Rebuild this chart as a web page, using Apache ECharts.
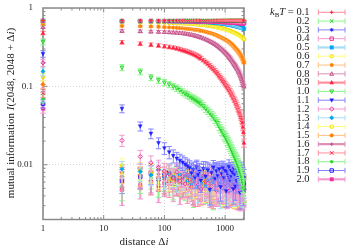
<!DOCTYPE html>
<html><head><meta charset="utf-8">
<script src="https://cdn.jsdelivr.net/npm/echarts@6/dist/echarts.min.js"></script>
<style>html,body{margin:0;padding:0;background:#fff}#c{width:358px;height:248px}</style>
</head><body><div id="c"></div>
<script>
// ---- data ----
const DI = [1,20,40,60,80,100,120,140,160,180,200,220,240,260,280,300,320,340,360,380,400,
  440,480,520,560,600,640,680,720,760,800,840,880,920,960,1000,1040,1080,1120,1160,1200,
  1240,1280,1320,1360,1400,1440,1480,1520,1560,1600,1640,1680,1720,1760,1800,1840,1880,1920,1960,2000,2040];
const TEMPS = ['0.1','0.2','0.3','0.4','0.5','0.6','0.7','0.8','0.9','1.0','1.1','1.2','1.3','1.4','1.5','1.6','1.7','1.8','1.9','2.0'];

const MI_T01 = [0.692,0.691,0.691,0.691,0.691,0.691,0.691,0.691,0.691,0.691,0.691,0.691,0.691,0.691,0.691,0.691,0.691,0.691,0.691,0.691,0.691,
  0.691,0.691,0.691,0.691,0.691,0.691,0.691,0.691,0.691,0.691,0.691,0.691,0.691,0.691,0.691,0.691,0.691,0.691,0.691,0.691,
  0.691,0.691,0.691,0.691,0.691,0.691,0.691,0.691,0.691,0.691,0.691,0.691,0.691,0.691,0.691,0.691,0.691,0.691,0.691,0.691,0.691];
const MI_T02 = [0.692,0.69,0.69,0.69,0.69,0.69,0.69,0.69,0.69,0.69,0.69,0.69,0.69,0.69,0.69,0.69,0.69,0.69,0.69,0.69,0.69,
  0.69,0.69,0.69,0.69,0.69,0.69,0.69,0.69,0.69,0.69,0.69,0.69,0.69,0.69,0.69,0.69,0.69,0.69,0.69,0.69,
  0.69,0.69,0.69,0.69,0.69,0.69,0.69,0.69,0.69,0.69,0.69,0.69,0.69,0.69,0.69,0.69,0.69,0.69,0.69,0.69,0.69];
const MI_T03 = [0.69,0.688,0.688,0.688,0.688,0.688,0.688,0.688,0.688,0.688,0.688,0.688,0.688,0.688,0.687,0.687,0.687,0.687,0.687,0.687,0.687,
  0.687,0.686,0.686,0.686,0.686,0.686,0.685,0.685,0.685,0.685,0.685,0.684,0.684,0.684,0.684,0.683,0.683,0.683,0.683,0.682,
  0.682,0.682,0.682,0.681,0.681,0.681,0.681,0.68,0.68,0.68,0.68,0.68,0.679,0.679,0.679,0.679,0.679,0.678,0.678,0.678,0.678];
const MI_T04 = [0.685,0.682,0.682,0.682,0.681,0.681,0.681,0.68,0.68,0.68,0.68,0.679,0.679,0.679,0.678,0.678,0.678,0.677,0.677,0.676,0.676,
  0.675,0.674,0.673,0.672,0.671,0.67,0.669,0.668,0.667,0.666,0.665,0.664,0.663,0.662,0.661,0.66,0.659,0.658,0.657,0.656,
  0.655,0.654,0.653,0.652,0.651,0.65,0.649,0.648,0.647,0.646,0.645,0.644,0.643,0.642,0.641,0.64,0.64,0.639,0.638,0.638,0.637];
const MI_T05 = [0.68,0.675,0.675,0.675,0.674,0.674,0.674,0.673,0.673,0.672,0.672,0.671,0.67,0.67,0.669,0.668,0.667,0.666,0.665,0.664,0.663,
  0.661,0.659,0.657,0.655,0.652,0.65,0.647,0.645,0.642,0.64,0.637,0.634,0.631,0.628,0.625,0.622,0.619,0.616,0.613,0.61,
  0.607,0.604,0.601,0.598,0.595,0.592,0.589,0.586,0.583,0.58,0.577,0.574,0.571,0.568,0.565,0.562,0.559,0.556,0.552,0.548,0.543];
const MI_T06 = [0.665,0.655,0.652,0.65,0.648,0.646,0.644,0.642,0.64,0.638,0.636,0.634,0.632,0.63,0.627,0.625,0.622,0.62,0.617,0.615,0.612,
  0.607,0.601,0.595,0.59,0.584,0.579,0.574,0.569,0.564,0.56,0.555,0.55,0.545,0.54,0.535,0.53,0.525,0.52,0.515,0.51,
  0.505,0.5,0.495,0.49,0.485,0.48,0.475,0.47,0.465,0.46,0.455,0.45,0.445,0.44,0.435,0.43,0.425,0.42,0.414,0.407,0.4];
const MI_T07 = [0.625,0.59,0.585,0.58,0.575,0.57,0.566,0.562,0.558,0.554,0.55,0.546,0.542,0.538,0.534,0.53,0.527,0.523,0.519,0.516,0.512,
  0.504,0.496,0.488,0.48,0.472,0.464,0.456,0.448,0.44,0.43,0.423,0.416,0.409,0.402,0.395,0.388,0.381,0.374,0.367,0.36,
  0.352,0.344,0.336,0.328,0.32,0.312,0.304,0.297,0.291,0.285,0.278,0.271,0.264,0.257,0.25,0.243,0.236,0.228,0.22,0.211,0.2];
const MI_T08 = [0.57,0.51,0.505,0.5,0.497,0.494,0.49,0.487,0.484,0.48,0.476,0.471,0.466,0.46,0.455,0.45,0.444,0.438,0.432,0.426,0.42,
  0.409,0.398,0.387,0.376,0.366,0.356,0.346,0.336,0.326,0.315,0.306,0.297,0.288,0.279,0.27,0.262,0.254,0.246,0.238,0.23,
  0.222,0.215,0.208,0.201,0.194,0.188,0.182,0.176,0.17,0.165,0.159,0.153,0.147,0.141,0.135,0.129,0.123,0.117,0.111,0.105,0.1];
const MI_T09 = [0.48,0.365,0.35,0.34,0.332,0.325,0.318,0.312,0.305,0.298,0.29,0.284,0.278,0.272,0.266,0.26,0.254,0.248,0.242,0.235,0.228,
  0.216,0.205,0.195,0.185,0.176,0.168,0.16,0.152,0.145,0.137,0.131,0.125,0.119,0.114,0.109,0.104,0.1,0.096,0.092,0.088,
  0.084,0.08,0.077,0.073,0.07,0.067,0.064,0.061,0.058,0.055,0.052,0.05,0.047,0.045,0.042,0.04,0.037,0.034,0.03,0.026,0.019];
const MI_T10 = [0.37,0.174,0.154,0.13,0.12,0.112,0.106,0.1,0.095,0.09,0.085,0.081,0.078,0.075,0.072,0.07,0.068,0.066,0.064,0.062,0.06,
  0.056,0.052,0.049,0.046,0.043,0.041,0.038,0.036,0.034,0.031,0.029,0.027,0.026,0.024,0.023,0.022,0.0205,0.0195,0.0185,0.0175,
  0.0166,0.0157,0.0149,0.0141,0.0134,0.0127,0.0121,0.0115,0.011,0.0105,0.0099,0.0094,0.0089,0.0084,0.008,0.0076,0.0071,0.0067,0.0062,0.0057,0.005];
const MI_T11 = [0.26,0.052,0.031,0.025,0.019,0.0163,0.0145,0.013,0.012,0.0113,0.0107,0.0101,0.0096,
  0.0091,0.0078,0.0087,0.0069,0.0093,0.0074,0.0082,0.0063,0.0089,0.0071,
  0.0085,0.0048,0.0079,0.0092,0.0066,0.0083,0.0072,0.0088,0.0052,0.0077,
  0.009,0.0068,0.0084,0.0046,0.0081,0.0073,0.0094,0.0064,0.0086,0.007,
  0.008,0.0049,0.0089,0.0075,0.0053,0.0085,0.0062,0.0078,0.0091,0.0069,
  0.0083,0.0044,0.0076,0.0087,0.0065,0.0079,0.0072,0.0047,0.0068];
const MI_T12 = [0.2,0.0204,0.0127,0.0106,0.0092,0.0083,
  0.0076,0.0068,0.0081,0.0062,0.0071,0.0057,0.0074,0.0065,0.0052,0.0069,
  0.006,0.0078,0.0055,0.0066,0.0049,0.0072,0.0061,0.0058,0.0075,0.0053,
  0.0067,0.0059,0.0047,0.007,0.0063,0.0056,0.0073,0.005,0.0064,0.0058,
  0.0069,0.0054,0.0061,0.0046,0.0066,0.0057,0.0071,0.0052,0.006,0.0063,
  0.0055,0.0068,0.0049,0.0062,0.0058,0.0065,0.0051,0.0059,0.0056,0.0062,
  0.0053,0.0057,0.005,0.0055,0.0052,0.0048];
const MI_T13 = [0.155,0.0088,
  0.0082,0.0074,0.0086,0.0068,0.0078,0.0071,0.0064,0.0075,0.0067,0.0072,
  0.0062,0.007,0.0056,0.0066,0.006,0.0073,0.0051,0.0064,0.0058,0.0069,
  0.0054,0.0063,0.0048,0.0066,0.0059,0.0071,0.0053,0.0061,0.0057,0.0045,
  0.0064,0.0056,0.0068,0.0052,0.006,0.0049,0.0063,0.0057,0.0066,0.0051,
  0.0059,0.0055,0.0062,0.0047,0.0058,0.0053,0.0061,0.005,0.0056,0.0054,
  0.006,0.0048,0.0055,0.0052,0.0057,0.0046,0.0053,0.005,0.0054,0.0049];
const MI_T14 = [0.132,0.0098,
  0.0085,0.0079,0.007,0.0082,0.0066,0.0073,0.0077,0.0063,0.007,0.0065,
  0.0073,0.006,0.0067,0.0055,0.0064,0.0071,0.0057,0.0066,0.0062,0.0051,
  0.0065,0.0058,0.0068,0.0053,0.0061,0.0056,0.0047,0.0064,0.0059,0.0066,
  0.0054,0.0061,0.0057,0.0048,0.0063,0.0055,0.0059,0.0052,0.0065,0.0057,
  0.005,0.0061,0.0055,0.0058,0.0046,0.0057,0.0053,0.006,0.0051,0.0055,
  0.0058,0.0049,0.0054,0.0057,0.0047,0.0053,0.0051,0.0055,0.0048,0.0052];
const MI_T15 = [0.106,0.0078,
  0.0074,0.0082,0.0066,0.0072,0.0078,0.0064,0.007,0.0061,0.0068,0.0075,
  0.0062,0.0066,0.0052,0.0069,0.0063,0.0057,0.0065,0.006,0.0048,0.0063,
  0.0058,0.0067,0.0054,0.006,0.0063,0.005,0.0061,0.0057,0.0065,0.0053,
  0.0059,0.0046,0.0062,0.0055,0.0058,0.0051,0.006,0.0056,0.0049,0.0061,
  0.0054,0.0057,0.0052,0.0059,0.0045,0.0056,0.0053,0.0058,0.005,0.0055,
  0.0052,0.0057,0.0048,0.0054,0.0051,0.0056,0.0047,0.0053,0.005,0.0052];
const MI_T16 = [0.095,0.0072,
  0.0068,0.0063,0.0076,0.006,0.0069,0.0065,0.0059,0.0072,0.0057,0.0064,
  0.0067,0.0056,0.0062,0.0049,0.0065,0.0058,0.0061,0.0054,0.0066,0.0052,
  0.006,0.0057,0.0063,0.0047,0.0059,0.0055,0.0062,0.0052,0.0058,0.0064,
  0.005,0.0056,0.0061,0.0053,0.0046,0.0059,0.0055,0.0057,0.0051,0.006,
  0.0054,0.0049,0.0058,0.0052,0.0056,0.0047,0.0055,0.0053,0.0057,0.005,
  0.0054,0.0051,0.0045,0.0055,0.0052,0.0049,0.0053,0.005,0.0048,0.0051];
const MI_T17 = [0.082,0.0067,
  0.0072,0.006,0.0066,0.0062,0.0057,0.0069,0.0059,0.0064,0.0055,0.0062,
  0.0058,0.0065,0.0054,0.0061,0.0047,0.0063,0.0056,0.0052,0.006,0.0055,
  0.0051,0.0062,0.0054,0.0058,0.0045,0.0057,0.0061,0.005,0.0056,0.0053,
  0.0059,0.0049,0.0055,0.0052,0.0058,0.0047,0.0054,0.0057,0.0051,0.0055,
  0.0048,0.0056,0.0053,0.0046,0.0055,0.0051,0.0054,0.0049,0.0057,0.0052,
  0.0044,0.0053,0.005,0.0055,0.0048,0.0052,0.0046,0.0051,0.0049,0.0053];
const MI_T18 = [0.07,0.0053,
  0.0062,0.0069,0.0057,0.0065,0.006,0.0054,0.0067,0.0058,0.0063,0.0053,
  0.006,0.0056,0.0062,0.0046,0.0059,0.0055,0.0051,0.0061,0.0054,0.0058,
  0.005,0.0057,0.0053,0.0059,0.0044,0.0056,0.0052,0.0049,0.0058,0.0054,
  0.0051,0.0056,0.0047,0.0055,0.0053,0.0057,0.005,0.0054,0.0048,0.0056,
  0.0052,0.0055,0.0046,0.0053,0.0051,0.0049,0.0055,0.005,0.0054,0.0047,
  0.0052,0.0049,0.0053,0.0045,0.0051,0.0048,0.0052,0.005,0.0046,0.0049];
const MI_T19 = [0.06,0.0062,
  0.007,0.0077,0.0065,0.0073,0.0081,0.0068,0.0075,0.0084,0.0071,0.0078,
  0.0086,0.0073,0.0082,0.007,0.0079,0.0088,0.0074,0.0083,0.0068,0.008,
  0.0087,0.0072,0.0081,0.0066,0.0077,0.0085,0.0071,0.0079,0.0065,0.0076,
  0.0083,0.0069,0.0078,0.0064,0.0074,0.0081,0.0067,0.0076,0.0062,0.0073,
  0.008,0.0066,0.0075,0.0061,0.0072,0.0078,0.0065,0.0074,0.006,0.0071,
  0.0077,0.0063,0.0072,0.0058,0.0069,0.0075,0.0062,0.0067,0.0059,0.0056];
const MI_T20 = [0.052,0.0048,
  0.0055,0.0061,0.0051,0.0058,0.0064,0.0052,0.006,0.0049,0.0057,0.0062,
  0.005,0.0056,0.0059,0.0048,0.0055,0.0058,0.0047,0.0054,0.0057,0.0049,
  0.0053,0.0056,0.0046,0.0052,0.0055,0.0048,0.0053,0.0051,0.0047,0.0054,
  0.0049,0.0052,0.0046,0.0051,0.0049,0.0045,0.005,0.0047,0.0053,0.0048,
  0.0051,0.0046,0.0049,0.0052,0.0045,0.005,0.0047,0.0049,0.0044,0.0048,
  0.0051,0.0046,0.0048,0.0043,0.0047,0.0049,0.0045,0.0047,0.0044,0.0046];
const ERR_REL = [0.006,0.006,0.008,0.01,0.015,0.02,0.025,0.035,0.05,0.08,0.09,0.1,0.1,0.1,0.1,0.1,0.1,0.1,0.1,0.1];
const ERR_ABS = 0.0013;

const X_TICKS = [1,10,100,1000];
const X_TICK_LABELS = ['1','10','100','1000'];
const Y_TICKS = [0.01,0.1,1];
const Y_TICK_LABELS = ['0.01','0.1','1'];

const MI = [MI_T01,MI_T02,MI_T03,MI_T04,MI_T05,MI_T06,MI_T07,MI_T08,MI_T09,MI_T10,MI_T11,MI_T12,MI_T13,MI_T14,MI_T15,MI_T16,MI_T17,MI_T18,MI_T19,MI_T20];

// ---- style ----
const X_MIN = 1, X_MAX = 2048, Y_MIN = 0.002, Y_MAX = 1;
const COL = ['#ff1f3d','#26d626','#2020ff','#ee33a0','#00a6ee','#f2dc00','#ff8000','#c4508a'];
const LIGHT = ['#ff8f9c','#8cf58c','#8484ff','#f59ad0','#a8def5','#ffff80','#ffbf80','#dc90b5'];
const THICK = new Set([4, 8, 15, 19]);
const FONT = 'Liberation Serif';
const FRAME = '#8a8a8a';

function marker(t, x, y, c) {
  const r = 1.8, sw = 1;
  const L = (x1, y1, x2, y2) => ({type: 'line', shape: {x1, y1, x2, y2}, style: {stroke: c, lineWidth: sw}});
  const st = (fill) => fill ? {fill: c, stroke: c, lineWidth: 0.5} : {fill: 'none', stroke: c, lineWidth: sw};
  const poly = (pts, fill) => ({type: 'polygon', shape: {points: pts}, style: st(fill)});
  switch (t) {
    case 0: return [L(x - r, y, x + r, y), L(x, y - r, x, y + r)];
    case 1: return [L(x - r, y - r, x + r, y + r), L(x - r, y + r, x + r, y - r)];
    case 2: return [L(x - r, y, x + r, y), L(x, y - r, x, y + r), L(x - r * .7, y - r * .7, x + r * .7, y + r * .7), L(x - r * .7, y + r * .7, x + r * .7, y - r * .7)];
    case 3: case 4: return [{type: 'rect', shape: {x: x - r * .95, y: y - r * .95, width: r * 1.9, height: r * 1.9}, style: st(t === 4)}];
    case 5: case 6: return [{type: 'circle', shape: {cx: x, cy: y, r: r * .95}, style: st(t === 6)}];
    case 7: case 8: return [poly([[x, y - r * 1.15], [x + r * 1.05, y + r * .8], [x - r * 1.05, y + r * .8]], t === 8)];
    case 9: case 10: return [poly([[x, y + r * 1.15], [x + r * 1.05, y - r * .8], [x - r * 1.05, y - r * .8]], t === 10)];
    case 11: case 12: return [poly([[x, y - r * 1.2], [x + r * 1.2, y], [x, y + r * 1.2], [x - r * 1.2, y]], t === 12)];
    default: {
      const pts = [];
      for (let i = 0; i < 5; i++) { const a = -Math.PI / 2 + i * 2 * Math.PI / 5; pts.push([x + r * 1.1 * Math.cos(a), y + r * 1.1 * Math.sin(a)]); }
      return [poly(pts, t === 14)];
    }
  }
}

function errorBar(x, ylo, yhi, color, lw, cap) {
  return [
    {type: 'line', shape: {x1: x, y1: ylo, x2: x, y2: yhi}, style: {stroke: color, lineWidth: lw}},
    {type: 'line', shape: {x1: x - cap, y1: ylo, x2: x + cap, y2: ylo}, style: {stroke: color, lineWidth: 1}},
    {type: 'line', shape: {x1: x - cap, y1: yhi, x2: x + cap, y2: yhi}, style: {stroke: color, lineWidth: 1}}
  ];
}

function makeRender(k) {
  return function (params, api) {
    const x = api.value(0), y = api.value(1), e = api.value(2);
    const p = api.coord([x, y]);
    const lo = api.coord([x, Math.max(y - e, Y_MIN)]);
    const hi = api.coord([x, y + e]);
    const lw = THICK.has(k) ? 2 : 1;
    const children = errorBar(p[0], lo[1], hi[1], LIGHT[k % 8], lw, 2.7)
      .concat(marker(k % 15, p[0], p[1], COL[k % 8]));
    return {type: 'group', children};
  };
}

function renderFrame(params, api) {
  const tl = api.coord([X_MIN, Y_MAX]), br = api.coord([X_MAX, Y_MIN]);
  const x0 = tl[0], x1 = br[0], y0 = tl[1], y1 = br[1];
  const els = [{type: 'rect', shape: {x: x0, y: y0, width: x1 - x0, height: y1 - y0}, style: {fill: 'none', stroke: FRAME, lineWidth: 1.6}}];
  const tick = (a, b, c, d) => els.push({type: 'line', shape: {x1: a, y1: b, x2: c, y2: d}, style: {stroke: FRAME, lineWidth: 1}});
  for (let dec = 1; dec <= 1000; dec *= 10) {
    for (let m = 1; m <= 9; m++) {
      const v = m * dec;
      if (v <= X_MIN || v >= X_MAX) continue;
      const px = api.coord([v, Y_MIN])[0];
      const len = m === 1 ? 4.5 : 2.5;
      tick(px, y1, px, y1 - len); tick(px, y0, px, y0 + len);
    }
  }
  for (let dec = 0.001; dec <= 0.5; dec *= 10) {
    for (let m = 1; m <= 9; m++) {
      const v = m * dec;
      if (v <= Y_MIN * 1.0001 || v >= Y_MAX * 0.9999) continue;
      const py = api.coord([X_MIN, v])[1];
      const len = m === 1 ? 4.5 : 2.5;
      tick(x0, py, x0 + len, py); tick(x1, py, x1 - len, py);
    }
  }
  return {type: 'group', children: els};
}

const series = [{type: 'custom', renderItem: renderFrame, data: [[10, 0.1]], silent: true, clip: false, z: 2}];
// drawn from the highest temperature to the lowest, so that low temperatures sit on top
for (let k = MI.length - 1; k >= 0; k--) {
  const vals = MI[k];
  series.push({
    type: 'custom', name: TEMPS[k], renderItem: makeRender(k), clip: false, silent: true, z: 3,
    encode: {x: 0, y: 1},
    data: DI.map((d, i) => [d, vals[i], vals[i] * ERR_REL[k] + ERR_ABS]).filter(p => p[1] > 0)
  });
}

// legend built from the same marker/errorbar drawing
const legendEls = [];
TEMPS.forEach((t, k) => {
  const y = 12.3 + 8.79 * k;
  const text = k === 0 ? '{i|k}{s|B}{i|T}{n| = ' + t + '}' : '{n|' + t + '}';
  legendEls.push({type: 'text', x: 309.5, y: y, silent: true, style: {
    text: text, align: 'right', verticalAlign: 'middle', fill: '#222',
    font: '10.5px "' + FONT + '"',
    rich: {
      n: {fontFamily: FONT, fontSize: 10.5, lineHeight: 12, fill: '#222'},
      i: {fontFamily: FONT, fontSize: 10.5, fontStyle: 'italic', lineHeight: 12, fill: '#222'},
      s: {fontFamily: FONT, fontSize: 7, lineHeight: 7, verticalAlign: 'bottom', fill: '#222'}
    }}});
  const lw = THICK.has(k) ? 2.2 : 1;
  const lc = LIGHT[k % 8];
  legendEls.push({type: 'line', silent: true, shape: {x1: 318.3, y1: y, x2: 345, y2: y}, style: {stroke: lc, lineWidth: lw}});
  legendEls.push({type: 'line', silent: true, shape: {x1: 318.3, y1: y - 2.7, x2: 318.3, y2: y + 2.7}, style: {stroke: lc, lineWidth: 1}});
  legendEls.push({type: 'line', silent: true, shape: {x1: 345, y1: y - 2.7, x2: 345, y2: y + 2.7}, style: {stroke: lc, lineWidth: 1}});
  marker(k % 15, 331.7, y, COL[k % 8]).forEach(e => { e.silent = true; legendEls.push(e); });
});
// axis titles
legendEls.push({type: 'text', x: 11, y: 113, rotation: Math.PI / 2, silent: true, style: {
  text: '{n|mutual information }{i|I}{n|(2048, 2048 + Δ}{i|i}{n|)}', align: 'center', verticalAlign: 'middle',
  rich: {n: {fontFamily: FONT, fontSize: 11, fill: '#222'}, i: {fontFamily: FONT, fontSize: 11, fontStyle: 'italic', fill: '#222'}}}});
legendEls.push({type: 'text', x: 144, y: 242.5, silent: true, style: {
  text: '{n|distance Δ}{i|i}', align: 'center', verticalAlign: 'middle',
  rich: {n: {fontFamily: FONT, fontSize: 11, fill: '#222'}, i: {fontFamily: FONT, fontSize: 11, fontStyle: 'italic', fill: '#222'}}}});

const splitStyle = {show: true, lineStyle: {color: '#c8c8c8', width: 0.8, type: [1, 2]}};
const option = {
  animation: false,
  backgroundColor: '#fff',
  grid: {left: 43, top: 8, right: 114, bottom: 28.5, outerBoundsMode: 'none', containLabel: false},
  xAxis: {
    type: 'log', logBase: 10, min: X_MIN, max: X_MAX,
    axisLine: {show: false}, axisTick: {show: false}, minorTick: {show: false},
    splitLine: splitStyle,
    axisLabel: {
      margin: 5, color: '#222', fontFamily: FONT, fontSize: 9, showMinLabel: true, showMaxLabel: true,
      formatter: v => { const i = X_TICKS.findIndex(t => Math.abs(t - v) / t < 1e-6); return i >= 0 ? X_TICK_LABELS[i] : ''; }
    }
  },
  yAxis: {
    type: 'log', logBase: 10, min: Y_MIN, max: Y_MAX,
    axisLine: {show: false}, axisTick: {show: false}, minorTick: {show: false},
    splitLine: splitStyle,
    axisLabel: {
      margin: 10, color: '#222', fontFamily: FONT, fontSize: 9,
      formatter: v => { const i = Y_TICKS.findIndex(t => Math.abs(t - v) / t < 1e-6); return i >= 0 ? Y_TICK_LABELS[i] : ''; }
    }
  },
  graphic: {elements: legendEls},
  series: series
};
const chart = echarts.init(document.getElementById('c'), null, {renderer: 'canvas'});
chart.setOption(option);
</script>
</body></html>
